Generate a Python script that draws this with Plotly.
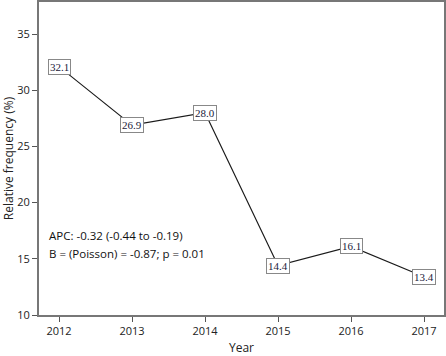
import plotly.graph_objects as go

years = [2012, 2013, 2014, 2015, 2016, 2017]
values = [32.1, 26.9, 28.0, 14.4, 16.1, 13.4]
labels = ["32.1", "26.9", "28.0", "14.4", "16.1", "13.4"]
y_ticks = [10, 15, 20, 25, 30, 35]
stat_lines = ["APC: -0.32 (-0.44 to -0.19)", "B = (Poisson) = -0.87; p = 0.01"]

fig = go.Figure()
fig.add_trace(go.Scatter(x=years, y=values, mode="lines",
                         line=dict(color="#1a1a1a", width=1.1),
                         hoverinfo="skip", showlegend=False))

for x, y, t in zip(years, values, labels):
    fig.add_annotation(x=x, y=y, text=t, showarrow=False,
                       font=dict(family="Liberation Serif", size=11, color="#1a1a3a"),
                       bgcolor="white", bordercolor="#888888", borderwidth=1,
                       borderpad=1)

fig.add_annotation(x=2011.83, y=17.05, text=stat_lines[0], showarrow=False,
                   xanchor="left", yanchor="middle",
                   font=dict(family="Open Sans", size=11.5, color="#111111"))
fig.add_annotation(x=2011.83, y=15.45, text=stat_lines[1], showarrow=False,
                   xanchor="left", yanchor="middle",
                   font=dict(family="Open Sans", size=11.5, color="#111111"))

fig.update_layout(
    width=446, height=356,
    margin=dict(l=39, r=2, t=2, b=41, autoexpand=False),
    plot_bgcolor="white", paper_bgcolor="white",
    font=dict(family="Open Sans", size=11, color="#222222"),
)
fig.update_xaxes(range=[2011.726, 2017.274], tickvals=years,
                 ticktext=[str(y) for y in years],
                 showgrid=False, zeroline=False,
                 showline=True, linecolor="#777777", linewidth=2, mirror=True,
                 ticks="outside", ticklen=5, tickcolor="#555555",
                 automargin=False,
                 title=dict(text="Year", font=dict(size=12), standoff=6))
fig.update_yaxes(range=[10, 37.85], tickvals=y_ticks,
                 showgrid=False, zeroline=False,
                 showline=True, linecolor="#777777", linewidth=2, mirror=True,
                 ticks="outside", ticklen=5, tickcolor="#555555",
                 automargin=False,
                 title=dict(text="Relative frequency (%)", font=dict(size=12), standoff=2))

fig.write_html("out.html", config={"displayModeBar": False},
               post_script="document.body.style.margin='0';")
